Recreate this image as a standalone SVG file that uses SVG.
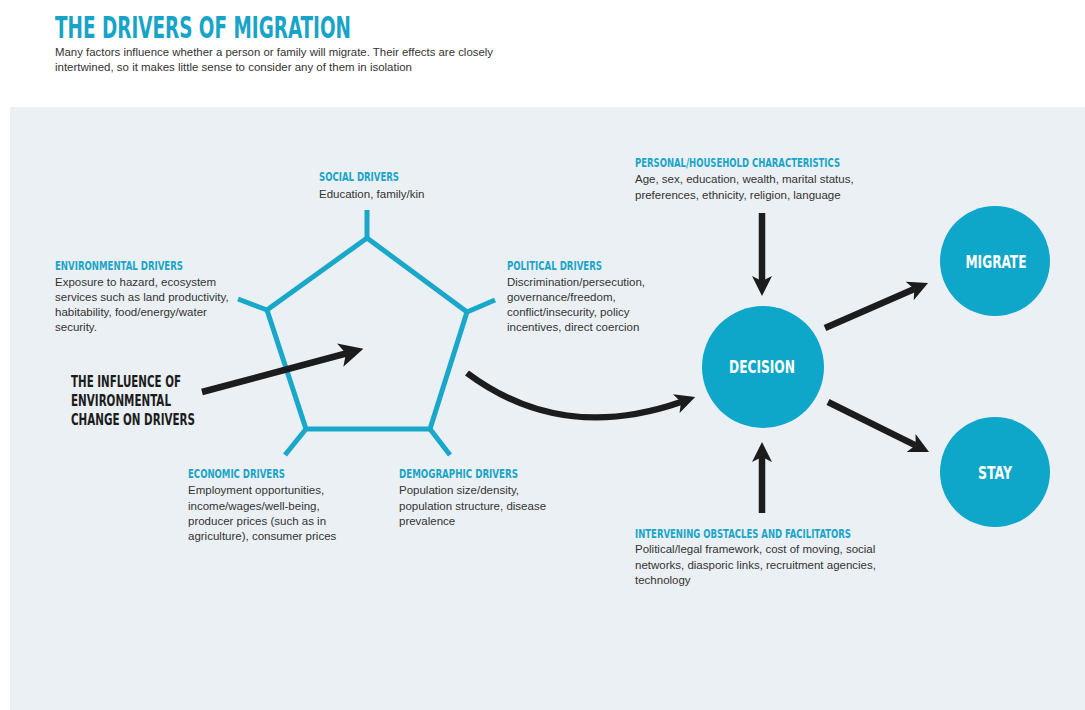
<svg xmlns="http://www.w3.org/2000/svg" width="1085" height="710" viewBox="0 0 1085 710">
<style>
.title{font-family:"DejaVu Sans Condensed","Liberation Sans",sans-serif;font-weight:bold;font-size:30px;fill:#17a4c8}
.hd{font-family:"DejaVu Sans Condensed","Liberation Sans",sans-serif;font-weight:bold;font-size:12.5px;fill:#1aa5c8}
.bd{font-family:"Liberation Sans",Arial,sans-serif;font-size:11.5px;fill:#333333}
.inf{font-family:"DejaVu Sans Condensed","Liberation Sans",sans-serif;font-weight:bold;font-size:15px;fill:#1c1c1c}
.cl{font-family:"DejaVu Sans Condensed","Liberation Sans",sans-serif;font-weight:bold;font-size:18px;fill:#ffffff;text-anchor:middle}
.pent{fill:none;stroke:#19a8c9;stroke-width:5;stroke-linejoin:miter}
.arr{fill:none;stroke:#1c1c1c;stroke-width:6.5}
.circ{fill:#0ea7c9}
</style>
<defs>
<marker id="ah" viewBox="0 0 20 20" refX="5" refY="10" markerWidth="20" markerHeight="20" markerUnits="userSpaceOnUse" orient="auto">
<path d="M0,0 L20,10 L0,20 L5,10 z" fill="#1c1c1c"/>
</marker>
<marker id="ahb" viewBox="0 0 20 20" refX="5" refY="10" markerWidth="24" markerHeight="24" markerUnits="userSpaceOnUse" orient="auto">
<path d="M0,0 L20,10 L0,20 L5,10 z" fill="#1c1c1c"/>
</marker>
</defs>
<rect x="0" y="0" width="1085" height="710" fill="#ffffff"/>
<rect x="10" y="107" width="1075" height="603" fill="#ebf0f4"/>

<g id="title">
<text class="title" x="55" y="38" textLength="296" lengthAdjust="spacingAndGlyphs">THE DRIVERS OF MIGRATION</text>
<text class="bd" x="55" y="56" textLength="438" lengthAdjust="spacingAndGlyphs">Many factors influence whether a person or family will migrate. Their effects are closely</text>
<text class="bd" x="55" y="71" textLength="357" lengthAdjust="spacingAndGlyphs">intertwined, so it makes little sense to consider any of them in isolation</text>
</g>

<g id="pentagon">
<polygon class="pent" points="367,238 467,312 430,429 306,429 267,310"/>
<line class="pent" x1="367" y1="238" x2="367" y2="210"/>
<line class="pent" x1="267" y1="310" x2="238" y2="299"/>
<line class="pent" x1="467" y1="312" x2="495" y2="300"/>
<line class="pent" x1="306" y1="429" x2="285" y2="455"/>
<line class="pent" x1="430" y1="429" x2="450" y2="455"/>
</g>

<g id="social-drivers">
<text class="hd" x="319" y="181" textLength="80" lengthAdjust="spacingAndGlyphs">SOCIAL DRIVERS</text>
<text class="bd" x="319" y="198">Education, family/kin</text>
</g>

<g id="environmental-drivers">
<text class="hd" x="55" y="270" textLength="128" lengthAdjust="spacingAndGlyphs">ENVIRONMENTAL DRIVERS</text>
<text class="bd" x="55" y="286">Exposure to hazard, ecosystem</text>
<text class="bd" x="55" y="301">services such as land productivity,</text>
<text class="bd" x="55" y="316">habitability, food/energy/water</text>
<text class="bd" x="55" y="331">security.</text>
</g>

<g id="political-drivers">
<text class="hd" x="507" y="270" textLength="95" lengthAdjust="spacingAndGlyphs">POLITICAL DRIVERS</text>
<text class="bd" x="507" y="286">Discrimination/persecution,</text>
<text class="bd" x="507" y="301">governance/freedom,</text>
<text class="bd" x="507" y="316">conflict/insecurity, policy</text>
<text class="bd" x="507" y="331">incentives, direct coercion</text>
</g>

<g id="economic-drivers">
<text class="hd" x="188" y="478" textLength="97" lengthAdjust="spacingAndGlyphs">ECONOMIC DRIVERS</text>
<text class="bd" x="188" y="494">Employment opportunities,</text>
<text class="bd" x="188" y="510">income/wages/well-being,</text>
<text class="bd" x="188" y="525">producer prices (such as in</text>
<text class="bd" x="188" y="540">agriculture), consumer prices</text>
</g>

<g id="demographic-drivers">
<text class="hd" x="399" y="478" textLength="119" lengthAdjust="spacingAndGlyphs">DEMOGRAPHIC  DRIVERS</text>
<text class="bd" x="399" y="494">Population size/density,</text>
<text class="bd" x="399" y="510">population structure, disease</text>
<text class="bd" x="399" y="525">prevalence</text>
</g>

<g id="influence">
<text class="inf" x="71" y="387" textLength="110" lengthAdjust="spacingAndGlyphs">THE INFLUENCE OF</text>
<text class="inf" x="71" y="406" textLength="100" lengthAdjust="spacingAndGlyphs">ENVIRONMENTAL</text>
<text class="inf" x="71" y="425" textLength="124" lengthAdjust="spacingAndGlyphs">CHANGE ON DRIVERS</text>
</g>

<g id="personal-household">
<text class="hd" x="635" y="167" textLength="205" lengthAdjust="spacingAndGlyphs">PERSONAL/HOUSEHOLD CHARACTERISTICS</text>
<text class="bd" x="635" y="183">Age, sex, education, wealth, marital status,</text>
<text class="bd" x="635" y="199">preferences, ethnicity, religion, language</text>
</g>

<g id="intervening-obstacles">
<text class="hd" x="635" y="538" textLength="216" lengthAdjust="spacingAndGlyphs">INTERVENING OBSTACLES AND FACILITATORS</text>
<text class="bd" x="635" y="553">Political/legal framework, cost of moving, social</text>
<text class="bd" x="635" y="569">networks, diasporic links, recruitment agencies,</text>
<text class="bd" x="635" y="584">technology</text>
</g>

<g id="decision">
<circle class="circ" cx="763" cy="367" r="61"/>
<text class="cl" x="762" y="373" textLength="66" lengthAdjust="spacingAndGlyphs">DECISION</text>
</g>

<g id="migrate">
<circle class="circ" cx="995" cy="261" r="55"/>
<text class="cl" x="996" y="268" textLength="61" lengthAdjust="spacingAndGlyphs">MIGRATE</text>
</g>

<g id="stay">
<circle class="circ" cx="995" cy="472" r="55"/>
<text class="cl" x="995" y="479" textLength="34" lengthAdjust="spacingAndGlyphs">STAY</text>
</g>

<g id="connectors">
<line class="arr" x1="202" y1="392" x2="346" y2="353.5" stroke-width="7" marker-end="url(#ahb)"/>
<path class="arr" d="M467,373 C530,420 600,430 681,402" marker-end="url(#ah)"/>
<line class="arr" x1="762" y1="213" x2="762" y2="281" marker-end="url(#ah)"/>
<line class="arr" x1="762" y1="513" x2="762" y2="457" marker-end="url(#ah)"/>
<line class="arr" x1="825" y1="328" x2="914.3" y2="289" marker-end="url(#ah)"/>
<line class="arr" x1="828" y1="402" x2="915.6" y2="445.3" marker-end="url(#ah)"/>
</g>
</svg>
